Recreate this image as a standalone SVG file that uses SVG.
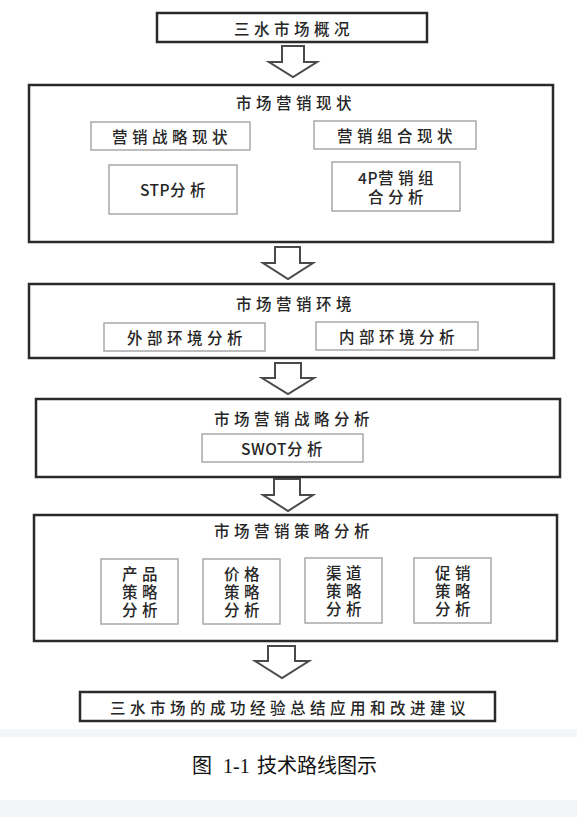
<svg xmlns="http://www.w3.org/2000/svg" width="577" height="817" viewBox="0 0 577 817">
<style>
  .main { fill: #ffffff; stroke: #2a2a2a; stroke-width: 2.5; }
  .sub { fill: #ffffff; stroke: #a8a8a8; stroke-width: 1.5; }
  .arrow { fill: #ffffff; stroke: #4a4a4a; stroke-width: 2; stroke-linejoin: miter; }
  .t { font-family: "Noto Sans CJK SC", "Noto Sans", sans-serif; font-size: 15.5px; font-weight: 500; fill: #262626; text-anchor: middle; dominant-baseline: central; letter-spacing: 4.5px; }
  .lat { letter-spacing: 0.5px; }
  .cap { font-family: "Liberation Serif", "Noto Sans CJK SC", serif; font-size: 20px; fill: #111111; }
</style>
<rect x="0" y="0" width="577" height="817" fill="#ffffff"/>
<rect x="0" y="729" width="577" height="8" fill="#f4f5f7"/>
<rect x="0" y="800" width="577" height="17" fill="#f4f5f7"/>

<g id="connectors">
  <path class="arrow" d="M282,46 H304 V62 H317 L293,77 L269,62 H282 Z"/>
  <path class="arrow" d="M275,247 H300 V263 H313 L288,279 L263,263 H275 Z"/>
  <path class="arrow" d="M275,363 H301 V378 H314 L288,394 L262,378 H275 Z"/>
  <path class="arrow" d="M274,479 H300 V495 H313 L288,511 L263,495 H274 Z"/>
  <path class="arrow" d="M268,646 H295 V661 H309 L282,678 L255,661 H268 Z"/>
</g>

<g id="node-overview">
  <rect class="main" x="157" y="13" width="270" height="29"/>
  <text class="t" x="294" y="28">三水市场概况</text>
</g>

<g id="node-status">
  <rect class="main" x="29" y="85" width="524" height="157"/>
  <text class="t" x="296" y="102">市场营销现状</text>
</g>
<g id="node-strategy-status">
  <rect class="sub" x="91" y="122" width="159" height="28"/>
  <text class="t" x="172" y="136">营销战略现状</text>
</g>
<g id="node-mix-status">
  <rect class="sub" x="314" y="121" width="162" height="28"/>
  <text class="t" x="397" y="135">营销组合现状</text>
</g>
<g id="node-stp">
  <rect class="sub" x="109" y="165" width="128" height="49"/>
  <text class="t" x="175" y="189"><tspan class="lat">STP</tspan>分析</text>
</g>
<g id="node-4p">
  <rect class="sub" x="332" y="162" width="128" height="49"/>
  <text class="t"><tspan x="398" y="177"><tspan class="lat">4P</tspan>营销组</tspan><tspan x="398" y="196">合分析</tspan></text>
</g>

<g id="node-environment">
  <rect class="main" x="29" y="284" width="525" height="74"/>
  <text class="t" x="296" y="303">市场营销环境</text>
</g>
<g id="node-external">
  <rect class="sub" x="104" y="323" width="161" height="28"/>
  <text class="t" x="187" y="337">外部环境分析</text>
</g>
<g id="node-internal">
  <rect class="sub" x="316" y="322" width="162" height="28"/>
  <text class="t" x="399" y="336">内部环境分析</text>
</g>

<g id="node-strategy-analysis">
  <rect class="main" x="36" y="399" width="524" height="78"/>
  <text class="t" x="294" y="418">市场营销战略分析</text>
</g>
<g id="node-swot">
  <rect class="sub" x="202" y="434" width="161" height="28"/>
  <text class="t" x="284" y="448"><tspan class="lat">SWOT</tspan>分析</text>
</g>

<g id="node-tactics">
  <rect class="main" x="34" y="515" width="523" height="126"/>
  <text class="t" x="294" y="530">市场营销策略分析</text>
</g>
<g id="node-product">
  <rect class="sub" x="101" y="559" width="77" height="65"/>
  <text class="t"><tspan x="142" y="573">产品</tspan><tspan x="142" y="591">策略</tspan><tspan x="142" y="609">分析</tspan></text>
</g>
<g id="node-price">
  <rect class="sub" x="203" y="559" width="77" height="65"/>
  <text class="t"><tspan x="244" y="573">价格</tspan><tspan x="244" y="591">策略</tspan><tspan x="244" y="609">分析</tspan></text>
</g>
<g id="node-channel">
  <rect class="sub" x="305" y="558" width="77" height="65"/>
  <text class="t"><tspan x="346" y="572">渠道</tspan><tspan x="346" y="590">策略</tspan><tspan x="346" y="608">分析</tspan></text>
</g>
<g id="node-promotion">
  <rect class="sub" x="414" y="558" width="77" height="65"/>
  <text class="t"><tspan x="455" y="572">促销</tspan><tspan x="455" y="590">策略</tspan><tspan x="455" y="608">分析</tspan></text>
</g>

<g id="node-summary">
  <rect class="main" x="80" y="692" width="415" height="29"/>
  <text class="t" x="290" y="707">三水市场的成功经验总结应用和改进建议</text>
</g>

<g id="caption">
  <text class="cap" y="773"><tspan x="192">图</tspan><tspan x="223">1-1</tspan><tspan x="257">技术路线图示</tspan></text>
</g>
</svg>
